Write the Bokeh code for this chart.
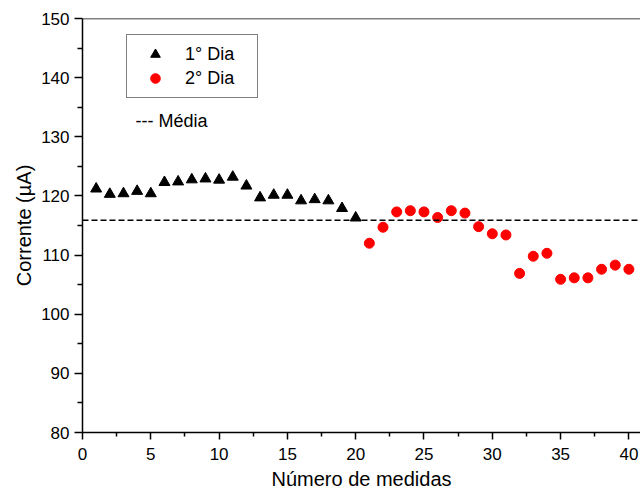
from bokeh.plotting import figure
from bokeh.models import Span, Label, Legend, LegendItem, FixedTicker, Range1d
from bokeh.embed import file_html
from bokeh.resources import INLINE

# ---- data ----
day1_x = list(range(1, 21))
day1_y = [121.2, 120.3, 120.4, 120.8, 120.4, 122.3, 122.4, 122.75, 122.9, 122.7,
          123.2, 121.7, 119.7, 120.15, 120.15, 119.2, 119.4, 119.2, 117.9, 116.3]
day2_x = list(range(21, 41))
day2_y = [112.0, 114.7, 117.3, 117.5, 117.3, 116.35, 117.5, 117.1, 114.8, 113.6,
          113.4, 106.9, 109.8, 110.3, 105.9, 106.15, 106.15, 107.6, 108.3, 107.6]
media = 115.9

x_ticks = [0, 5, 10, 15, 20, 25, 30, 35, 40]
y_ticks = [80, 90, 100, 110, 120, 130, 140, 150]
series_labels = ["1° Dia", "2° Dia"]
media_label = "--- Média"
x_title = "Número de medidas"
y_title = "Corrente (µA)"

FONT = "Liberation Sans"

p = figure(width=640, height=493, output_backend="svg", toolbar_location=None,
           x_range=Range1d(0, 40.85), y_range=Range1d(y_ticks[0], y_ticks[-1]),
           min_border_left=82, min_border_right=0, min_border_top=18,
           min_border_bottom=61)
p.background_fill_color = "white"
p.border_fill_color = "white"
p.outline_line_color = None
p.grid.visible = False

r1 = p.scatter(day1_x, day1_y, marker="triangle", size=11,
               fill_color="black", line_color="black")
r2 = p.scatter(day2_x, day2_y, marker="circle", size=10,
               fill_color="#ff0000", line_color="#ff0000")

p.add_layout(Span(location=media, dimension="width", line_color="black",
                  line_width=1.5, line_dash="6 3"))
# top border line
p.add_layout(Span(location=y_ticks[-1], dimension="width", line_color="black",
                  line_width=1.5))

# axes
p.xaxis.ticker = FixedTicker(ticks=x_ticks,
                             minor_ticks=[t + 2.5 for t in x_ticks[:-1]])
p.yaxis.ticker = FixedTicker(ticks=y_ticks,
                             minor_ticks=[t + 5 for t in y_ticks[:-1]])
for ax in (p.xaxis, p.yaxis):
    ax.axis_line_color = "black"
    ax.axis_line_width = 1.5
    ax.major_tick_line_color = "black"
    ax.minor_tick_line_color = "black"
    ax.major_tick_line_width = 1.5
    ax.minor_tick_line_width = 1.5
    ax.major_tick_in = 0
    ax.minor_tick_in = 0
    ax.major_label_text_font = FONT
    ax.major_label_text_font_size = "17px"
    ax.major_label_text_color = "black"
    ax.axis_label_text_font = FONT
    ax.axis_label_text_font_size = "20px"
    ax.axis_label_text_font_style = "normal"
    ax.axis_label_text_color = "black"

p.xaxis.major_tick_out = 7
p.xaxis.minor_tick_out = 4
p.yaxis.major_tick_out = 8
p.yaxis.minor_tick_out = 5
p.xaxis.major_label_standoff = 8
p.yaxis.major_label_standoff = 5
p.xaxis.axis_label = x_title
p.yaxis.axis_label = y_title
p.xaxis.axis_label_standoff = 5
p.yaxis.axis_label_standoff = 3

legend = Legend(items=[LegendItem(label=series_labels[0], renderers=[r1]),
                       LegendItem(label=series_labels[1], renderers=[r2])],
                location=(44, 334), margin=0, padding=7, spacing=0,
                glyph_width=42, glyph_height=24, label_standoff=9,
                label_width=65, label_text_font=FONT,
                label_text_font_size="18px", label_text_color="black",
                border_line_color="black", border_line_width=1,
                background_fill_color="white", background_fill_alpha=1)
p.add_layout(legend)

p.add_layout(Label(x=53, y=312, x_units="screen", y_units="screen",
                   text=media_label, text_font=FONT, text_font_size="18px",
                   text_color="black", text_baseline="middle"))

open("out.html", "w").write(file_html(p, INLINE))
